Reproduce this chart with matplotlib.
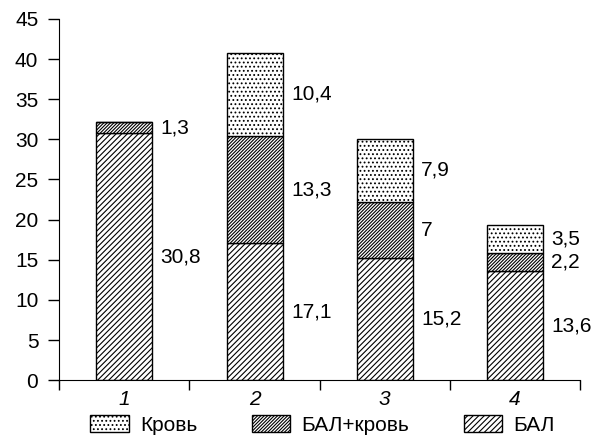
"""Stacked bars: БАЛ / БАЛ+кровь / Кровь by group."""

import numpy as np
from matplotlib import pyplot as plt

plt.rcParams['font.family'] = ['Liberation Sans', 'DejaVu Sans']
plt.rcParams['hatch.linewidth'] = 0.8

groups: list = ['1', '2', '3', '4']
bal: list = [30.8, 17.1, 15.2, 13.6]
bal_blood: list = [1.3, 13.3, 7.0, 2.2]
blood: list = [0.0, 10.4, 7.9, 3.5]
bal_lbl: list = ['30,8', '17,1', '15,2', '13,6']
bal_blood_lbl: list = ['1,3', '13,3', '7', '2,2']
blood_lbl: list = ['', '10,4', '7,9', '3,5']

fig = plt.figure(figsize=(5.92, 4.4), dpi=100)
ax = fig.add_axes([0.1, 0.136, 0.88, 0.821])

x = np.arange(1, len(groups) + 1)
w = 0.43
fs = 15

b1 = ax.bar(x, bal, w, color='white', edgecolor='black', hatch='//////',
            linewidth=1, label='БАЛ')
b2 = ax.bar(x, bal_blood, w, bottom=bal, color='white', edgecolor='black',
            hatch='//////////', linewidth=1, label='БАЛ+кровь')
bottom3 = np.array(bal) + np.array(bal_blood)
b3 = ax.bar(x, blood, w, bottom=bottom3, color='white', edgecolor='black',
            hatch='....', linewidth=1, label='Кровь')

# value labels to the right of each segment
for vals, bots, lbls in [(bal, [0] * 4, bal_lbl),
                         (bal_blood, bal, bal_blood_lbl),
                         (blood, bottom3, blood_lbl)]:
    for xi, v, b, t in zip(x, vals, bots, lbls):
        if not t:
            continue
        ax.annotate(t, (xi + w / 2, b + v / 2), xytext=(6, 0),
                    textcoords='offset points', va='center', ha='left',
                    fontsize=fs)

ax.set_xlim(0.5, 4.5)
ax.set_ylim(0, 45)
ax.set_yticks(np.arange(0, 46, 5))
ax.set_xticks(x)
ax.set_xticklabels(groups, fontstyle='italic')
ax.set_xticks(np.arange(0.5, 4.6, 1), minor=True)
ax.tick_params(axis='x', which='major', length=0, pad=7, labelsize=fs)
ax.tick_params(axis='x', which='minor', length=7.5, width=1, direction='out')
ax.tick_params(axis='y', length=8, width=1, direction='out', labelsize=fs,
               pad=7)
ax.spines['top'].set_visible(False)
ax.spines['right'].set_visible(False)

fig.legend(handles=[b3, b2, b1], labels=['Кровь', 'БАЛ+кровь', 'БАЛ'],
           loc='center', bbox_to_anchor=(0.545, 0.034), ncol=3,
           frameon=False, fontsize=fs, handlelength=1.85, handleheight=0.9,
           handletextpad=0.55, columnspacing=2.6)

fig.savefig('out.png', dpi=100)
